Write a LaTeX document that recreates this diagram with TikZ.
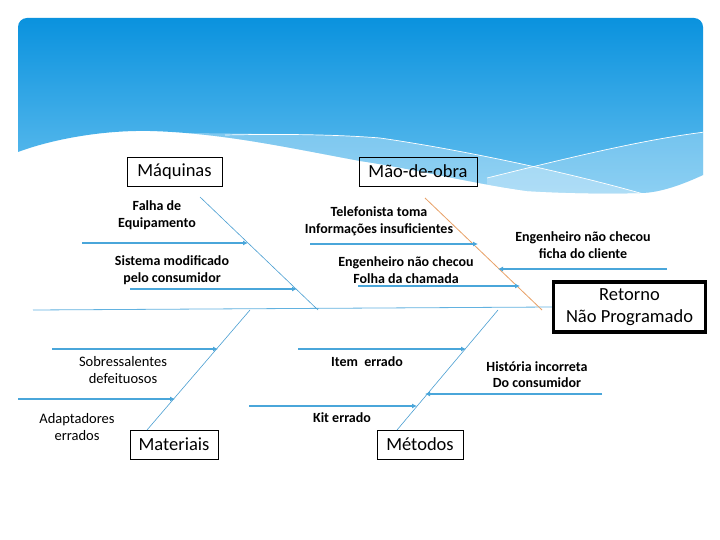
\documentclass[tikz,border=0pt]{standalone}
\usepackage{fontspec}
\setmainfont{Carlito}
\usetikzlibrary{arrows.meta}
\definecolor{bgTop}{HTML}{0A92DE}
\definecolor{bgBot}{HTML}{66C0EF}
\definecolor{boneblue}{HTML}{4A9FD2}
\definecolor{arrowblue}{HTML}{4AA6DA}
\definecolor{spineblue}{HTML}{62B2E0}
\definecolor{boneorange}{HTML}{E8A066}
\begin{document}
\begin{tikzpicture}[x=1pt,y=-1pt,
  catbox/.style={draw=black,line width=0.8pt,inner sep=0pt,font=\fontsize{18.5}{20}\selectfont},
  effbox/.style={draw=black,line width=3.2pt,inner sep=0pt,align=center,font=\fontsize{18.5}{22}\selectfont},
  lbl/.style={align=center,inner sep=0pt,font=\bfseries\fontsize{14}{16.5}\selectfont},
  lblr/.style={align=center,inner sep=0pt,font=\fontsize{14.5}{17}\selectfont},
  bone/.style={draw=boneblue,line width=0.6pt},
  bonew/.style={draw=boneorange,line width=0.8pt},
  spine/.style={draw=spineblue,line width=0.8pt},
  subarrow/.style={draw=arrowblue,line width=1.8pt,-{Latex[length=5pt,width=5pt]}},
  waveline/.style={draw=white,line width=0.7pt}
]
\useasboundingbox (0,0) rectangle (720,540);
\fill[white] (0,0) rectangle (720,540);

% ---- background wave ----
\def\blueshape{(18,152) [rounded corners=9pt]-- (18,18) -- (703,18) [sharp corners]-- (703,175)
  .. controls (675,188) and (655,193) .. (640,193)
  .. controls (600,194) and (560,193) .. (527,191)
  .. controls (470,183) and (420,170) .. (360,161)
  .. controls (280,146) and (220,133) .. (150,131)
  .. controls (100,130) and (50,140) .. (18,152) -- cycle}
\shade[top color=bgTop,bottom color=bgBot] \blueshape;
\begin{scope}
  \clip \blueshape;
  \fill[white,opacity=0.3] (190,133) .. controls (260,134) and (330,134) .. (380,138)
     .. controls (450,148) and (560,170) .. (647,195) -- (647,260) -- (150,260) -- cycle;
  \fill[white,opacity=0.25] (487,178) .. controls (560,160) and (640,140) .. (705,132)
     -- (710,260) -- (487,260) -- cycle;
  \draw[waveline] (225,135) .. controls (270,134) and (330,134) .. (380,138)
     .. controls (450,148) and (560,170) .. (647,195);
  \draw[waveline] (487,178) .. controls (560,160) and (640,140) .. (705,132);
\end{scope}

% ---- effect and category boxes ----
\node[effbox,minimum width=152pt,minimum height=50pt] (eff) at (629.5,307) {Retorno\\Não Programado};
\node[catbox,minimum width=95pt,minimum height=29pt] (maq) at (174.5,171.5) {Máquinas};
\node[catbox,minimum width=118pt,minimum height=29pt] (mao) at (418,171.5) {Mão-de-obra};
\node[catbox,minimum width=88pt,minimum height=29pt] (mat) at (174,444.5) {Materiais};
\node[catbox,minimum width=86pt,minimum height=29pt] (met) at (420,444.5) {Métodos};

% ---- spine and bones ----
\coordinate (spL) at (33,310);
\draw[spine] (spL) -- (eff.west);
\coordinate (bMaqA) at (200,197);  \coordinate (bMaqB) at (318,310);
\coordinate (bMaoA) at (425,198);  \coordinate (bMaoB) at (542,310);
\coordinate (bMatA) at (147,430);  \coordinate (bMatB) at (250,310);
\coordinate (bMetA) at (397,430);  \coordinate (bMetB) at (498,310);
\draw[bone] (bMaqA) -- (bMaqB);
\draw[bonew] (bMaoA) -- (bMaoB);
\draw[bone] (bMatA) -- (bMatB);
\draw[bone] (bMetA) -- (bMetB);

% ---- sub-cause arrows ----
\coordinate (m1s) at (82,243);  \coordinate (m1e) at (248,243);
\coordinate (m2s) at (130,289); \coordinate (m2e) at (297,289);
\coordinate (o1s) at (310,244); \coordinate (o1e) at (478,244);
\coordinate (o2s) at (358,286); \coordinate (o2e) at (520,286);
\coordinate (o3s) at (667,269); \coordinate (o3e) at (498,269);
\coordinate (t1s) at (52,349);  \coordinate (t1e) at (218,349);
\coordinate (t2s) at (18,399);  \coordinate (t2e) at (175,399);
\coordinate (e1s) at (298,349); \coordinate (e1e) at (466,349);
\coordinate (e2s) at (602,394); \coordinate (e2e) at (425,394);
\coordinate (e3s) at (249,406); \coordinate (e3e) at (417,406);
\foreach \a in {m1,m2,o1,o2,o3,t1,t2,e1,e2,e3}{\draw[subarrow] (\a s) -- (\a e);}

% ---- labels ----
\node[lbl] (lm1) at (157,215) {Falha de\\Equipamento};
\node[lbl] (lm2) at (172,270) {Sistema modificado\\pelo consumidor};
\node[lbl] (lo1) at (379,221.5) {Telefonista toma\\Informações insuficientes};
\node[lbl] (lo2) at (406,270) {Engenheiro não checou\\Folha da chamada};
\node[lbl] (lo3) at (583,245) {Engenheiro não checou\\ficha do cliente};
\node[lblr] (lt1) at (123,370.5) {Sobressalentes\\defeituosos};
\node[lblr] (lt2) at (77,427) {Adaptadores\\errados};
\node[lbl] (le1) at (367,362) {Item\ \ errado};
\node[lbl] (le2) at (537,374.5) {História incorreta\\Do consumidor};
\node[lbl] (le3) at (342,418) {Kit errado};
\end{tikzpicture}
\end{document}
